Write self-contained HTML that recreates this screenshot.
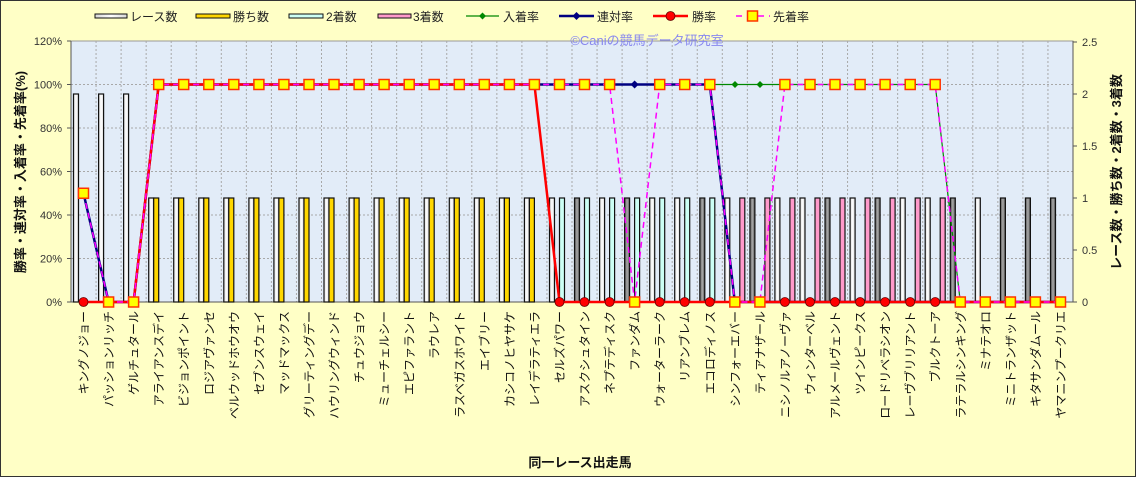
<!DOCTYPE html>
<html><head><meta charset="utf-8"><style>
html,body{margin:0;padding:0;background:#FFFFC6;}
svg{display:block;font-family:"Liberation Sans","Noto Sans CJK JP",sans-serif;}
</style></head><body>
<svg width="1136" height="477" viewBox="0 0 1136 477" xmlns="http://www.w3.org/2000/svg">
<defs>
<linearGradient id="gw" x1="0" x2="1"><stop offset="0" stop-color="#d8d8d8"/><stop offset="0.5" stop-color="#ffffff"/><stop offset="1" stop-color="#d8d8d8"/></linearGradient>
<linearGradient id="gg" x1="0" x2="1"><stop offset="0" stop-color="#555"/><stop offset="0.5" stop-color="#aaa"/><stop offset="1" stop-color="#555"/></linearGradient>
<rect id="rt" x="-10" y="94" width="5" height="208" fill="url(#gw)" stroke="#111" stroke-width="1.2"/>
<rect id="rw" x="-10" y="198" width="5" height="104" fill="url(#gw)" stroke="#111" stroke-width="1.2"/>
<rect id="rg" x="-10" y="198" width="5" height="104" fill="url(#gg)" stroke="#111" stroke-width="1.2"/>
<rect id="bw" x="-5" y="198" width="5" height="104" fill="#FFD700" stroke="#111" stroke-width="1.2"/>
<rect id="b2" x="0" y="198" width="5" height="104" fill="#CCFFF5" stroke="#111" stroke-width="1.2"/>
<rect id="b3" x="5" y="198" width="5" height="104" fill="#FF9ACB" stroke="#111" stroke-width="1.2"/>
<rect id="sq" x="-5" y="-5" width="10" height="10" fill="#FFFF00" stroke="#FF3300" stroke-width="1.5"/>
<circle id="ci" r="4.5" fill="#FF0000" stroke="#600" stroke-width="0.8"/>
<path id="dg" d="M0,-3.5 L3.5,0 L0,3.5 L-3.5,0Z" fill="#008800"/>
<path id="db" d="M0,-4 L4,0 L0,4 L-4,0Z" fill="#000080"/>
</defs>
<rect x="0.5" y="0.5" width="1135" height="476" fill="#FFFFC6" stroke="#333" stroke-width="1"/>
<rect x="71" y="41" width="1002" height="261" fill="#E2ECF8" stroke="#999" stroke-width="1"/>
<g stroke="#a8a8a8" stroke-width="1" stroke-dasharray="2,2">
<line x1="71" x2="1073" y1="84.5" y2="84.5"/><line x1="71" x2="1073" y1="128" y2="128"/><line x1="71" x2="1073" y1="171.5" y2="171.5"/><line x1="71" x2="1073" y1="215" y2="215"/><line x1="71" x2="1073" y1="258.5" y2="258.5"/>
<path d="M96.05,41V302M121.1,41V302M146.15,41V302M171.2,41V302M196.25,41V302M221.3,41V302M246.35,41V302M271.4,41V302M296.45,41V302M321.5,41V302M346.55,41V302M371.6,41V302M396.65,41V302M421.7,41V302M446.75,41V302M471.8,41V302M496.85,41V302M521.9,41V302M546.95,41V302M572,41V302M597.05,41V302M622.1,41V302M647.15,41V302M672.2,41V302M697.25,41V302M722.3,41V302M747.35,41V302M772.4,41V302M797.45,41V302M822.5,41V302M847.55,41V302M872.6,41V302M897.65,41V302M922.7,41V302M947.75,41V302M972.8,41V302M997.85,41V302M1022.9,41V302M1047.95,41V302"/>
</g>
<g stroke="#555" stroke-width="1">
<line x1="71" y1="41" x2="71" y2="302"/><line x1="1073" y1="41" x2="1073" y2="302"/><line x1="71" y1="302" x2="1073" y2="302"/>
<path d="M67,41H71M67,84.5H71M67,128H71M67,171.5H71M67,215H71M67,258.5H71M67,302H71"/>
<path d="M1073,42H1077M1073,94H1077M1073,146H1077M1073,198H1077M1073,250H1077M1073,302H1077"/>
</g>
<g font-size="11" fill="#333" text-anchor="end">
<text x="62" y="45">120%</text><text x="62" y="88.5">100%</text><text x="62" y="132">80%</text><text x="62" y="175.5">60%</text><text x="62" y="219">40%</text><text x="62" y="262.5">20%</text><text x="62" y="306">0%</text>
</g>
<g font-size="11" fill="#333">
<text x="1082" y="46">2.5</text><text x="1082" y="98">2</text><text x="1082" y="150">1.5</text><text x="1082" y="202">1</text><text x="1082" y="254">0.5</text><text x="1082" y="306">0</text>
</g>
<text x="647" y="45" font-size="13" fill="#8888EE" text-anchor="middle">©Caniの競馬データ研究室</text>
<use href="#rt" x="83.5"/><use href="#rt" x="108.6"/><use href="#rt" x="133.6"/>
<g>
<use href="#rw" x="158.7"/><use href="#bw" x="158.7"/>
<use href="#rw" x="183.7"/><use href="#bw" x="183.7"/>
<use href="#rw" x="208.8"/><use href="#bw" x="208.8"/>
<use href="#rw" x="233.8"/><use href="#bw" x="233.8"/>
<use href="#rw" x="258.9"/><use href="#bw" x="258.9"/>
<use href="#rw" x="283.9"/><use href="#bw" x="283.9"/>
<use href="#rw" x="309"/><use href="#bw" x="309"/>
<use href="#rw" x="334"/><use href="#bw" x="334"/>
<use href="#rw" x="359.1"/><use href="#bw" x="359.1"/>
<use href="#rw" x="384.1"/><use href="#bw" x="384.1"/>
<use href="#rw" x="409.2"/><use href="#bw" x="409.2"/>
<use href="#rw" x="434.2"/><use href="#bw" x="434.2"/>
<use href="#rw" x="459.3"/><use href="#bw" x="459.3"/>
<use href="#rw" x="484.3"/><use href="#bw" x="484.3"/>
<use href="#rw" x="509.4"/><use href="#bw" x="509.4"/>
<use href="#rw" x="534.4"/><use href="#bw" x="534.4"/>
<use href="#rw" x="559.5"/><use href="#b2" x="559.5"/>
<use href="#rg" x="584.5"/><use href="#b2" x="584.5"/>
<use href="#rw" x="609.6"/><use href="#b2" x="609.6"/>
<use href="#rg" x="634.6"/><use href="#b2" x="634.6"/>
<use href="#rw" x="659.7"/><use href="#b2" x="659.7"/>
<use href="#rw" x="684.7"/><use href="#b2" x="684.7"/>
<use href="#rg" x="709.8"/><use href="#b2" x="709.8"/>
<use href="#rw" x="734.8"/><use href="#b3" x="734.8"/>
<use href="#rg" x="759.9"/><use href="#b3" x="759.9"/>
<use href="#rw" x="784.9"/><use href="#b3" x="784.9"/>
<use href="#rw" x="810"/><use href="#b3" x="810"/>
<use href="#rg" x="835"/><use href="#b3" x="835"/>
<use href="#rw" x="860.1"/><use href="#b3" x="860.1"/>
<use href="#rg" x="885.1"/><use href="#b3" x="885.1"/>
<use href="#rw" x="910.2"/><use href="#b3" x="910.2"/>
<use href="#rw" x="935.2"/><use href="#b3" x="935.2"/>
<use href="#rg" x="960.3"/><use href="#rw" x="985.3"/><use href="#rg" x="1010.4"/><use href="#rg" x="1035.4"/><use href="#rg" x="1060.5"/>
</g>
<polyline fill="none" stroke="#008800" stroke-width="1.2" points="83.5,193.25 108.6,302 133.6,302 158.7,84.5 935.2,84.5 960.3,302 1060.5,302"/>
<polyline fill="none" stroke="#000080" stroke-width="2.5" points="83.5,193.25 108.6,302 133.6,302 158.7,84.5 709.8,84.5 734.8,302 1060.5,302"/>
<polyline fill="none" stroke="#FF0000" stroke-width="2.5" points="83.5,302 133.6,302 158.7,84.5 534.4,84.5 559.5,302 1060.5,302"/>
<polyline fill="none" stroke="#FF00FF" stroke-width="1.5" stroke-dasharray="6,4" points="83.5,193.25 108.6,302 133.6,302 158.7,84.5 609.6,84.5 634.6,302 659.7,84.5 709.8,84.5 734.8,302 759.9,302 784.9,84.5 935.2,84.5 960.3,302 1060.5,302"/>
<g>
<use href="#dg" x="735" y="84.5"/><use href="#dg" x="760" y="84.5"/>
<use href="#db" x="634.6" y="84.5"/>
<use href="#ci" x="83.5" y="302"/>
<use href="#ci" x="559.5" y="302"/><use href="#ci" x="584.5" y="302"/><use href="#ci" x="609.6" y="302"/><use href="#ci" x="659.7" y="302"/><use href="#ci" x="684.7" y="302"/><use href="#ci" x="709.8" y="302"/><use href="#ci" x="784.9" y="302"/><use href="#ci" x="810" y="302"/><use href="#ci" x="835" y="302"/><use href="#ci" x="860.1" y="302"/><use href="#ci" x="885.1" y="302"/><use href="#ci" x="910.2" y="302"/><use href="#ci" x="935.2" y="302"/>
<use href="#sq" x="83.5" y="193.25"/><use href="#sq" x="108.6" y="302"/><use href="#sq" x="133.6" y="302"/>
<use href="#sq" x="158.7" y="84.5"/><use href="#sq" x="183.7" y="84.5"/><use href="#sq" x="208.8" y="84.5"/><use href="#sq" x="233.8" y="84.5"/><use href="#sq" x="258.9" y="84.5"/><use href="#sq" x="283.9" y="84.5"/><use href="#sq" x="309" y="84.5"/><use href="#sq" x="334" y="84.5"/><use href="#sq" x="359.1" y="84.5"/><use href="#sq" x="384.1" y="84.5"/><use href="#sq" x="409.2" y="84.5"/><use href="#sq" x="434.2" y="84.5"/><use href="#sq" x="459.3" y="84.5"/><use href="#sq" x="484.3" y="84.5"/><use href="#sq" x="509.4" y="84.5"/><use href="#sq" x="534.4" y="84.5"/><use href="#sq" x="559.5" y="84.5"/><use href="#sq" x="584.5" y="84.5"/><use href="#sq" x="609.6" y="84.5"/>
<use href="#sq" x="634.6" y="302"/>
<use href="#sq" x="659.7" y="84.5"/><use href="#sq" x="684.7" y="84.5"/><use href="#sq" x="709.8" y="84.5"/>
<use href="#sq" x="734.8" y="302"/><use href="#sq" x="759.9" y="302"/>
<use href="#sq" x="784.9" y="84.5"/><use href="#sq" x="810" y="84.5"/><use href="#sq" x="835" y="84.5"/><use href="#sq" x="860.1" y="84.5"/><use href="#sq" x="885.1" y="84.5"/><use href="#sq" x="910.2" y="84.5"/><use href="#sq" x="935.2" y="84.5"/>
<use href="#sq" x="960.3" y="302"/><use href="#sq" x="985.3" y="302"/><use href="#sq" x="1010.4" y="302"/><use href="#sq" x="1035.4" y="302"/><use href="#sq" x="1060.5" y="302"/>
</g>
<g font-size="12" fill="#111" text-anchor="end">
<text transform="translate(88,311) rotate(-90)">キングノジョー</text>
<text transform="translate(113.1,311) rotate(-90)">パッションリッチ</text>
<text transform="translate(138.1,311) rotate(-90)">ゲルチュタール</text>
<text transform="translate(163.2,311) rotate(-90)">アライアンスデイ</text>
<text transform="translate(188.2,311) rotate(-90)">ビジョンポイント</text>
<text transform="translate(213.3,311) rotate(-90)">ロジアヴァンセ</text>
<text transform="translate(238.3,311) rotate(-90)">ベルウッドホウオウ</text>
<text transform="translate(263.4,311) rotate(-90)">セブンスウェイ</text>
<text transform="translate(288.4,311) rotate(-90)">マッドマックス</text>
<text transform="translate(313.5,311) rotate(-90)">グリーティングデー</text>
<text transform="translate(338.5,311) rotate(-90)">ハウリングウィンド</text>
<text transform="translate(363.6,311) rotate(-90)">チュウジョウ</text>
<text transform="translate(388.6,311) rotate(-90)">ミューチェルシー</text>
<text transform="translate(413.7,311) rotate(-90)">エピファラント</text>
<text transform="translate(438.7,311) rotate(-90)">ラウレア</text>
<text transform="translate(463.8,311) rotate(-90)">ラスベガスホワイト</text>
<text transform="translate(488.8,311) rotate(-90)">エイブリー</text>
<text transform="translate(513.9,311) rotate(-90)">カシコノヒヤサケ</text>
<text transform="translate(538.9,311) rotate(-90)">レイデラティエラ</text>
<text transform="translate(564,311) rotate(-90)">セルズパワー</text>
<text transform="translate(589,311) rotate(-90)">アスクシュタイン</text>
<text transform="translate(614.1,311) rotate(-90)">ネプテディスク</text>
<text transform="translate(639.1,311) rotate(-90)">ファンダム</text>
<text transform="translate(664.2,311) rotate(-90)">ウォーターラーク</text>
<text transform="translate(689.2,311) rotate(-90)">リアンブレム</text>
<text transform="translate(714.3,311) rotate(-90)">エコロディノス</text>
<text transform="translate(739.3,311) rotate(-90)">シンフォーエバー</text>
<text transform="translate(764.4,311) rotate(-90)">ティアナザール</text>
<text transform="translate(789.4,311) rotate(-90)">ニシノルアノーヴァ</text>
<text transform="translate(814.5,311) rotate(-90)">ウィンターベル</text>
<text transform="translate(839.5,311) rotate(-90)">アルメールヴェント</text>
<text transform="translate(864.6,311) rotate(-90)">ツインピークス</text>
<text transform="translate(889.6,311) rotate(-90)">ロードリベラシオン</text>
<text transform="translate(914.7,311) rotate(-90)">レーヴブリリアント</text>
<text transform="translate(939.7,311) rotate(-90)">ブルクトーア</text>
<text transform="translate(964.8,311) rotate(-90)">ラテラルシンキング</text>
<text transform="translate(989.8,311) rotate(-90)">ミナテオロ</text>
<text transform="translate(1014.9,311) rotate(-90)">ミニトランザット</text>
<text transform="translate(1039.9,311) rotate(-90)">キタサンダムール</text>
<text transform="translate(1065,311) rotate(-90)">ヤマニンプークリエ</text>
</g>
<text transform="translate(25,172) rotate(-90)" font-size="13" font-weight="bold" fill="#111" text-anchor="middle">勝率・連対率・入着率・先着率(%)</text>
<text transform="translate(1121,172) rotate(-90)" font-size="13" font-weight="bold" fill="#111" text-anchor="middle">レース数・勝ち数・2着数・3着数</text>
<text x="580" y="467" font-size="13" font-weight="bold" fill="#111" text-anchor="middle">同一レース出走馬</text>
<g font-size="12" fill="#222">
<rect x="95" y="14" width="32" height="4" fill="url(#gw)" stroke="#111"/><text x="130" y="21">レース数</text>
<rect x="196" y="14" width="34" height="4" fill="#FFD700" stroke="#111"/><text x="233" y="21">勝ち数</text>
<rect x="289" y="14" width="34" height="4" fill="#CCFFF5" stroke="#111"/><text x="326" y="21">2着数</text>
<rect x="378" y="14" width="33" height="4" fill="#FF9ACB" stroke="#111"/><text x="413" y="21">3着数</text>
<line x1="466" y1="16" x2="499" y2="16" stroke="#008800" stroke-width="1.2"/><use href="#dg" x="482.5" y="16"/><text x="503" y="21">入着率</text>
<line x1="559" y1="16" x2="594" y2="16" stroke="#000080" stroke-width="2.5"/><use href="#db" x="576.5" y="16"/><text x="597" y="21">連対率</text>
<line x1="653" y1="16" x2="688" y2="16" stroke="#FF0000" stroke-width="2.5"/><use href="#ci" x="670.5" y="16"/><text x="692" y="21">勝率</text>
<line x1="736" y1="16" x2="770" y2="16" stroke="#FF00FF" stroke-width="1.5" stroke-dasharray="6,5"/><use href="#sq" x="752.5" y="16"/><text x="773" y="21">先着率</text>
</g>
</svg>
</body></html>
